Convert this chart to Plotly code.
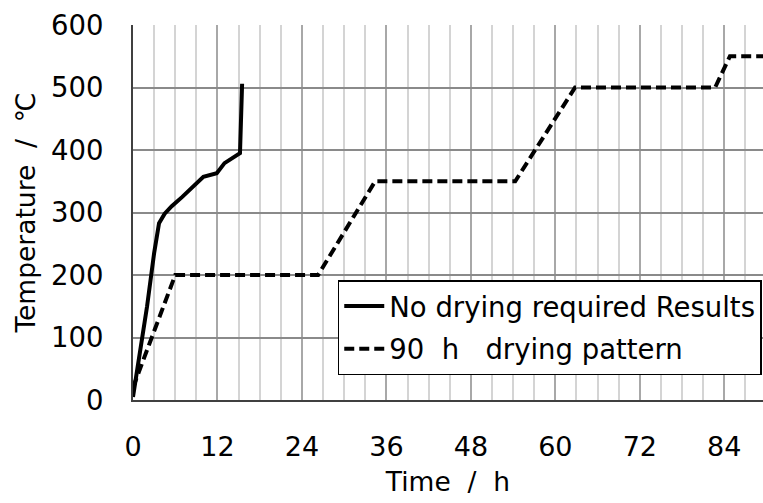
import plotly.graph_objects as go

# Data
t_nodry = [0, 1, 2, 3, 3.7, 4.5, 5.5, 7, 8, 9, 10, 11.9, 13, 15.2, 15.5]
T_nodry = [5, 75, 150, 235, 283, 298, 310, 325, 336, 345, 357, 363, 379, 395, 506]

t_pattern = [0, 6, 26.3, 34.4, 54.3, 62.8, 82.7, 84.8, 90]
T_pattern = [20, 200, 200, 350, 350, 500, 500, 550, 550]

x_ticks = [0, 12, 24, 36, 48, 60, 72, 84]
y_ticks = [0, 100, 200, 300, 400, 500, 600]

FONT = "DejaVu Sans"

fig = go.Figure()
fig.add_trace(go.Scatter(
    x=t_nodry, y=T_nodry, mode="lines", name="No drying required Results",
    line=dict(color="black", width=4), legendgroup="a"))
fig.add_trace(go.Scatter(
    x=t_pattern, y=T_pattern, mode="lines", name="90\u00a0\u00a0h\u00a0\u00a0\u00a0drying pattern",
    line=dict(color="black", width=4, dash="10px,5px"), legendgroup="b"))

fig.update_layout(
    width=763, height=503,
    margin=dict(l=133, r=0, t=25, b=103),
    plot_bgcolor="white", paper_bgcolor="white",
    font=dict(family=FONT, size=26, color="black"),
    showlegend=True,
    legend=dict(x=0.325, y=0.32, xanchor="left", yanchor="top",
                bgcolor="white", bordercolor="black", borderwidth=1.5,
                font=dict(family=FONT, size=27.5), tracegroupgap=4,
                itemwidth=40),
    xaxis=dict(range=[0, 89.5], tickvals=x_ticks, ticktext=[str(v) for v in x_ticks],
               showgrid=True, gridcolor="#a8a8a8", gridwidth=1.5,
               minor=dict(dtick=3, tick0=0, showgrid=True, gridcolor="#d4d4d4", gridwidth=1.5),
               showline=True, linecolor="#404040", linewidth=2,
               ticks="", ticklabelstandoff=22, zeroline=False,
               tickfont=dict(family=FONT, size=27),
               title=dict(text="Time\u00a0\u00a0/\u00a0\u00a0h", font=dict(family=FONT, size=26.5), standoff=11)),
    yaxis=dict(range=[0, 600], tickvals=y_ticks, ticktext=[str(v) for v in y_ticks],
               showgrid=True, gridcolor="#8a8a8a", gridwidth=1.5,
               showline=True, linecolor="#404040", linewidth=2,
               ticks="", ticklabelstandoff=22, zeroline=False,
               tickfont=dict(family=FONT, size=27.5),
               title=dict(text="Temperature\u00a0\u00a0/\u00a0\u00a0\u2103", font=dict(family=FONT, size=26.5), standoff=8)),
)

fig.write_html("out.html")
